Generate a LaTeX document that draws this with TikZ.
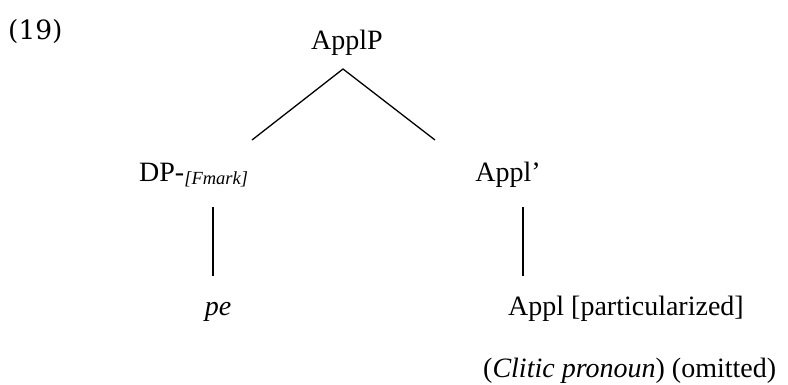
\documentclass[tikz,border=0pt]{standalone}
\usepackage{fontspec}
\setmainfont{Liberation Serif}
\newfontfamily\numfont{DejaVu Serif}
\begin{document}
\begin{tikzpicture}[x=1pt,y=-1pt,
  lbl/.style={inner sep=0pt, font=\fontsize{28}{32}\selectfont},
  edge/.style={line width=1.3pt}]
\useasboundingbox (0,0) rectangle (788,385);
\node[inner sep=0pt, anchor=base west, font=\numfont\fontsize{26.5}{30}\selectfont] (num) at (8,40) {(19)};
\node[lbl, anchor=base] (applp) at (347,50) {ApplP};
\node[lbl, anchor=base west] (dp) at (139,182) {DP-\raisebox{-3pt}{\fontsize{18.5}{22}\selectfont\itshape [Fmark]}};
\node[lbl, anchor=base] (applbar) at (508,182) {Appl’};
\node[lbl, anchor=base] (pe) at (218,316) {\itshape pe};
\node[lbl, anchor=base west] (appl) at (508,315) {Appl [particularized]};
\node[lbl, anchor=base west] (clitic) at (483,377) {(\textit{Clitic pronoun}) (omitted)};
\coordinate (apex) at (343,69);
\coordinate (lend) at (252,140);
\coordinate (rend) at (435,140);
\coordinate (dpa) at (213,207);
\coordinate (dpb) at (213,276);
\coordinate (aba) at (523,207);
\coordinate (abb) at (523,276);
\draw[edge] (lend) -- (apex) -- (rend);
\draw[edge] (dpa) -- (dpb);
\draw[edge] (aba) -- (abb);
\end{tikzpicture}
\end{document}
